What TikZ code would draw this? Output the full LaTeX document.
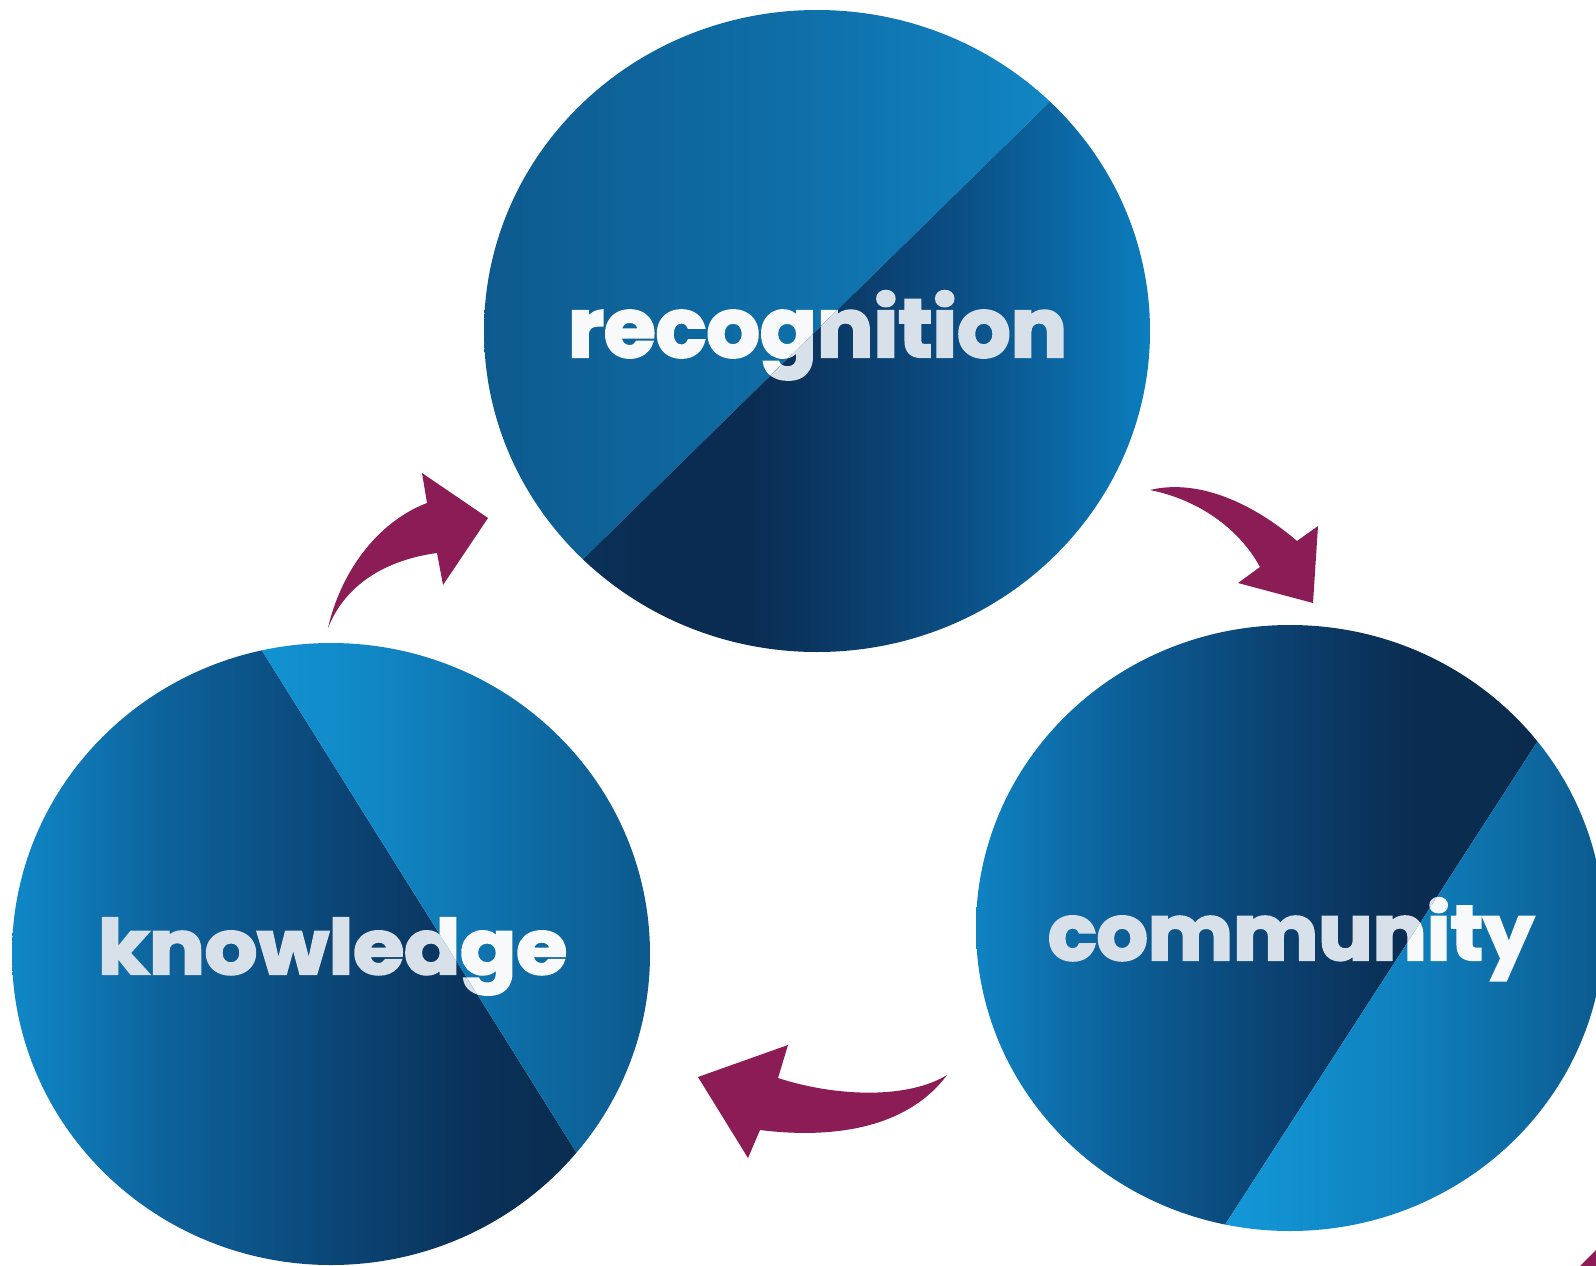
\documentclass[tikz,border=0pt]{standalone}
\usepackage{fontspec}
\setmainfont{Poppins}
\newfontfamily\heavyfont{Poppins}[FakeBold=3]
\usepackage{graphicx}
\definecolor{arrowc}{HTML}{8B1C55}
\definecolor{txtlight}{HTML}{F7F9FB}
\definecolor{txtgray}{HTML}{D8E1EA}
% recognition
\definecolor{rUa}{HTML}{0D5A8E}
\definecolor{rUb}{HTML}{0F70AA}
\definecolor{rUc}{HTML}{1190CF}
\definecolor{rLa}{HTML}{0B3A68}
\definecolor{rLb}{HTML}{0A2C52}
\definecolor{rLc}{HTML}{0B4C82}
\definecolor{rLd}{HTML}{0B7DBD}
% knowledge
\definecolor{kLa}{HTML}{1088C8}
\definecolor{kLb}{HTML}{0D629B}
\definecolor{kLc}{HTML}{0B4677}
\definecolor{kLd}{HTML}{0A3057}
\definecolor{kLe}{HTML}{0A2A4B}
\definecolor{kRa}{HTML}{1398D8}
\definecolor{kRb}{HTML}{1186C4}
\definecolor{kRc}{HTML}{0E6CA5}
\definecolor{kRd}{HTML}{0C598D}
% community
\definecolor{cLa}{HTML}{0F82C2}
\definecolor{cLb}{HTML}{0C5E97}
\definecolor{cLc}{HTML}{0B3F6E}
\definecolor{cLd}{HTML}{0A2C50}
\definecolor{cLe}{HTML}{0A2B4C}
\definecolor{cRa}{HTML}{1398D8}
\definecolor{cRb}{HTML}{0F7FBC}
\definecolor{cRc}{HTML}{0C5A8E}
\pgfdeclarehorizontalshading{recUp}{100bp}{color(0bp)=(rUa); color(25bp)=(rUa); color(50bp)=(rUb); color(75bp)=(rUc); color(100bp)=(rUc)}
\pgfdeclarehorizontalshading{recLo}{100bp}{color(0bp)=(rLa); color(25bp)=(rLa); color(37bp)=(rLb); color(45bp)=(rLb); color(60bp)=(rLc); color(75bp)=(rLd); color(100bp)=(rLd)}
\pgfdeclarehorizontalshading{knoL}{100bp}{color(0bp)=(kLa); color(25bp)=(kLa); color(37bp)=(kLb); color(50bp)=(kLc); color(62bp)=(kLd); color(75bp)=(kLe); color(100bp)=(kLe)}
\pgfdeclarehorizontalshading{knoR}{100bp}{color(0bp)=(kRa); color(40bp)=(kRa); color(54bp)=(kRb); color(65bp)=(kRc); color(75bp)=(kRd); color(100bp)=(kRd)}
\pgfdeclarehorizontalshading{comL}{100bp}{color(0bp)=(cLa); color(25bp)=(cLa); color(37bp)=(cLb); color(50bp)=(cLc); color(60bp)=(cLd); color(75bp)=(cLe); color(100bp)=(cLe)}
\pgfdeclarehorizontalshading{comR}{100bp}{color(0bp)=(cRa); color(45bp)=(cRa); color(60bp)=(cRb); color(75bp)=(cRc); color(100bp)=(cRc)}
\tikzset{
  lbl/.style={anchor=base west, inner sep=0pt, outer sep=0pt, font=\heavyfont\bfseries},
  arw/.style={fill=arrowc, draw=none}
}
\begin{document}
\begin{tikzpicture}[x=1pt,y=-1pt]
\useasboundingbox[fill=white] (0,0) rectangle (1596,1266);

% ---------- recognition ----------
\begin{scope}
  \clip (817,331) ellipse [x radius=333, y radius=321];
  \begin{scope}
    \clip (1218,-63) -- (318,819) -- (318,-63) -- cycle;
    \shade[shading=recUp] (484,10) rectangle (1150,652);
    \node[lbl, text=txtlight] (recA) at (568,357) {\resizebox{499pt}{66pt}{recognition}};
  \end{scope}
  \begin{scope}
    \clip (1218,-63) -- (318,819) -- (1218,819) -- cycle;
    \shade[shading=recLo] (484,10) rectangle (1150,652);
    \node[lbl, text=txtgray] (recB) at (568,357) {\resizebox{499pt}{66pt}{recognition}};
  \end{scope}
\end{scope}

% ---------- knowledge ----------
\begin{scope}
  \clip (331,954) ellipse [x radius=319, y radius=311];
  \begin{scope}
    \clip (105,400) -- (737,1409) -- (-50,1409) -- (-50,400) -- cycle;
    \shade[shading=knoL] (12,643) rectangle (650,1265);
    \node[lbl, text=txtgray] (knoA) at (98,974) {\resizebox{469pt}{56pt}{knowledge}};
  \end{scope}
  \begin{scope}
    \clip (105,400) -- (737,1409) -- (800,1409) -- (800,400) -- cycle;
    \shade[shading=knoR] (12,643) rectangle (650,1265);
    \node[lbl, text=txtlight] (knoB) at (98,974) {\resizebox{469pt}{56pt}{knowledge}};
  \end{scope}
\end{scope}

% ---------- community ----------
\begin{scope}
  \clip (1290,928) ellipse [x radius=314, y radius=303];
  \begin{scope}
    \clip (1691,504) -- (1071,1463) -- (900,1463) -- (900,504) -- cycle;
    \shade[shading=comL] (976,625) rectangle (1604,1231);
    \node[lbl, text=txtgray] (comA) at (1048,960) {\resizebox{486pt}{62pt}{community}};
  \end{scope}
  \begin{scope}
    \clip (1691,504) -- (1071,1463) -- (1700,1463) -- (1700,504) -- cycle;
    \shade[shading=comR] (976,625) rectangle (1604,1231);
    \node[lbl, text=txtlight] (comB) at (1048,960) {\resizebox{486pt}{62pt}{community}};
  \end{scope}
\end{scope}

% ---------- arrows ----------
% knowledge -> recognition
\fill[arw] (328,628) .. controls (340,575) and (375,523) .. (427,503)
  -- (422,473) -- (488,518) -- (443,585) -- (437,553)
  .. controls (385,560) and (345,585) .. (328,628) -- cycle;
% recognition -> community
\fill[arw] (1150,490) .. controls (1200,478) and (1255,505) .. (1297,541)
  -- (1318,526) -- (1313,603) -- (1238,583) -- (1260,567)
  .. controls (1240,530) and (1200,500) .. (1150,490) -- cycle;
% community -> knowledge
\fill[arw] (947,1075) .. controls (910,1098) and (840,1098) .. (778,1078)
  -- (788,1045) -- (698,1077) -- (748,1158) -- (760,1130)
  .. controls (840,1140) and (910,1125) .. (947,1075) -- cycle;
% cut-off arrow in the corner
\fill[arw] (1580,1266) -- (1596,1250) -- (1596,1266) -- cycle;
\end{tikzpicture}
\end{document}
